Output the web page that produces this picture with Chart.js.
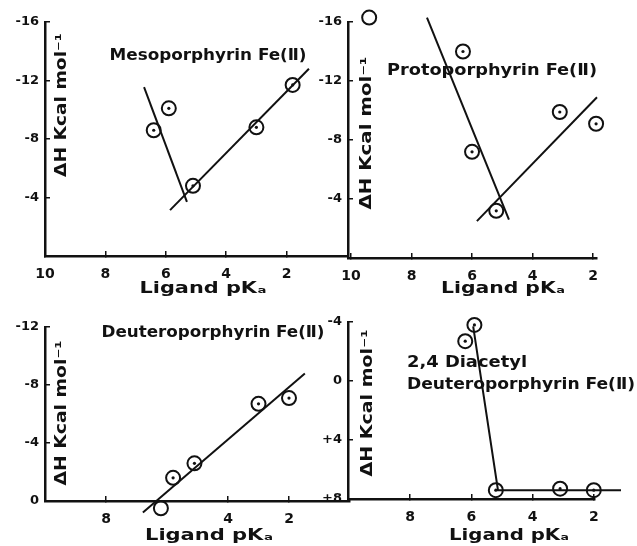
<!DOCTYPE html>
<html>
<head>
<meta charset="utf-8">
<script src="https://cdn.jsdelivr.net/npm/chart.js@4.4.0/dist/chart.umd.min.js"></script>
<style>
  html, body { margin: 0; background: #fff; }
  #wrap { position: relative; width: 637px; height: 546px; }
  #wrap canvas { position: absolute; left: 0; top: 0; }
</style>
</head>
<body>
<div id="wrap">
  <canvas id="meso" width="637" height="546"></canvas>
  <canvas id="proto" width="637" height="546"></canvas>
  <canvas id="deut" width="637" height="546"></canvas>
  <canvas id="diac" width="637" height="546"></canvas>
</div>
<script>
// Mesoporphyrin Fe(II)
const mesoPka = [6.4, 5.9, 5.1, 3.0, 1.8];
const mesoDH = [-8.6, -10.1, -4.8, -8.8, -11.7];
const mesoFitAPka = [6.72, 5.3];
const mesoFitADH = [-11.55, -3.7];
const mesoFitBPka = [5.86, 1.26];
const mesoFitBDH = [-3.14, -12.8];
const mesoXTicks = [10, 8, 6, 4, 2];
const mesoYTicks = [-16, -12, -8, -4];

// Protoporphyrin Fe(II)
const protoPka = [9.4, 6.3, 6.0, 5.2, 3.1, 1.9];
const protoDH = [-16.3, -14.0, -7.2, -3.2, -9.9, -9.1];
const protoFitAPka = [7.49, 4.78];
const protoFitADH = [-16.3, -2.6];
const protoFitBPka = [5.84, 1.87];
const protoFitBDH = [-2.5, -10.9];
const protoXTicks = [10, 8, 6, 4, 2];
const protoYTicks = [-16, -12, -8, -4];

// Deuteroporphyrin Fe(II)
const deutPka = [6.2, 5.8, 5.1, 3.0, 2.0];
const deutDH = [0.5, -1.6, -2.6, -6.7, -7.1];
const deutFitPka = [6.79, 1.48];
const deutFitDH = [0.8, -8.8];
const deutXTicks = [8, 4, 2];
const deutYTicks = [-12, -8, -4, 0];

// 2,4 Diacetyl deuteroporphyrin Fe(II)
const diacPka = [5.9, 6.2, 5.2, 3.1, 2.0];
const diacDH = [-3.8, -2.7, 7.4, 7.3, 7.4];
const diacFitPka = [5.94, 5.13, 1.11];
const diacFitDH = [-3.7, 7.4, 7.4];
const diacXTicks = [8, 6, 4, 2];
const diacYTicks = [-4, 0, 4, 8];

const INK = '#111';
const W = 637, H = 546;
const Y_W = 40;   // width kept for y tick labels
const X_H = 30;   // height kept for x tick labels
const NOTE_FONT = 'bold 16px "DejaVu Sans Condensed", "DejaVu Sans", sans-serif';
const Y_TITLE = 'ΔH Kcal mol⁻¹';
const X_TITLE = 'Ligand pKₐ';

const pts = (xs, ys) => xs.map((x, i) => ({ x: x, y: ys[i] }));

// draws the hand-placed labels (panel titles, axis titles)
const notesPlugin = {
    id: 'notes',
    afterDraw(chart, args, opts) {
        const ctx = chart.ctx;
        (opts.items || []).forEach(t => {
            ctx.save();
            ctx.font = NOTE_FONT;
            ctx.fillStyle = INK;
            ctx.textAlign = t.align || 'center';
            ctx.textBaseline = 'middle';
            ctx.translate(t.x, t.y);
            if (t.rot) ctx.rotate(t.rot);
            if (t.w) ctx.scale(t.w / ctx.measureText(t.text).width, 1);
            ctx.fillText(t.text, 0, 0);
            ctx.restore();
        });
    }
};

function ring(data) {
    return {
        data: data, showLine: false, clip: false,
        pointRadius: 7, pointHoverRadius: 7, pointBorderWidth: 2,
        pointBorderColor: INK, pointBackgroundColor: 'rgba(0,0,0,0)'
    };
}
function dot(data) {
    return {
        data: data, showLine: false, clip: false,
        pointRadius: 1.6, pointBorderWidth: 0, pointBackgroundColor: INK
    };
}
function fit(data) {
    return {
        data: data, showLine: true, clip: false, pointRadius: 0,
        borderColor: INK, borderWidth: 2, tension: 0
    };
}

function makePanel(id, p) {
    const ctx = document.getElementById(id).getContext('2d');
    return new Chart(ctx, {
        type: 'scatter',
        data: { datasets: p.datasets },
        options: {
            responsive: false,
            animation: false,
            events: [],
            layout: {
                padding: {
                    left: p.area.left - Y_W,
                    top: p.area.top,
                    right: W - p.area.right,
                    bottom: H - p.area.bottom - X_H
                }
            },
            plugins: {
                legend: { display: false },
                tooltip: { enabled: false },
                notes: { items: p.notes }
            },
            scales: {
                x: {
                    type: 'linear', reverse: true, min: p.xMin, max: p.xMax,
                    afterBuildTicks: s => { s.ticks = p.xTicks.map(v => ({ value: v })); },
                    afterFit: s => { s.height = X_H; },
                    // negative tick length puts the marks inside the plot, as drawn by hand
                    ticks: { color: INK, padding: 15, font: { family: 'DejaVu Sans', weight: 'bold', size: 14 } },
                    grid: { drawOnChartArea: false, color: INK, lineWidth: 1.5, tickLength: -5 },
                    border: { color: INK, width: 2.5 }
                },
                y: {
                    type: 'linear', reverse: true, min: p.yMin, max: p.yMax,
                    afterBuildTicks: s => { s.ticks = p.yTicks.map(v => ({ value: v })); },
                    afterFit: s => { s.width = Y_W; },
                    ticks: {
                        color: INK, padding: 11,
                        font: { family: 'DejaVu Sans', weight: 'bold', size: 13 },
                        callback: v => v > 0 ? '+' + v : (v < 0 ? '-' + Math.abs(v) : '0')
                    },
                    grid: { drawOnChartArea: false, color: INK, lineWidth: 1.5, tickLength: -5 },
                    border: { color: INK, width: 2.5 }
                }
            }
        },
        plugins: [notesPlugin]
    });
}

makePanel('meso', {
    area: { left: 45, top: 22, right: 347, bottom: 256 },
    xMin: 0, xMax: 10, yMin: -16, yMax: 0,
    xTicks: mesoXTicks, yTicks: mesoYTicks,
    datasets: [
        fit(pts(mesoFitAPka, mesoFitADH)),
        fit(pts(mesoFitBPka, mesoFitBDH)),
        ring(pts(mesoPka, mesoDH)),
        dot(pts(mesoPka, mesoDH))
    ],
    notes: [
        { text: 'Mesoporphyrin Fe(Ⅱ)', x: 208, y: 56, w: 197 },
        { text: Y_TITLE, x: 62, y: 105, w: 144, rot: -Math.PI / 2 },
        { text: X_TITLE, x: 203, y: 289, w: 127 }
    ]
});

makePanel('proto', {
    area: { left: 348, top: 22, right: 597, bottom: 258 },
    xMin: 1.87, xMax: 10.1, yMin: -16, yMax: 0,
    xTicks: protoXTicks, yTicks: protoYTicks,
    datasets: [
        fit(pts(protoFitAPka, protoFitADH)),
        fit(pts(protoFitBPka, protoFitBDH)),
        ring(pts(protoPka, protoDH)),
        dot(pts(protoPka, protoDH))
    ],
    notes: [
        { text: 'Protoporphyrin Fe(Ⅱ)', x: 492, y: 71, w: 210 },
        { text: Y_TITLE, x: 367, y: 133, w: 153, rot: -Math.PI / 2 },
        { text: X_TITLE, x: 503, y: 289, w: 124 }
    ]
});

makePanel('deut', {
    area: { left: 45, top: 327, right: 350, bottom: 501 },
    xMin: 0, xMax: 10, yMin: -12, yMax: 0,
    xTicks: deutXTicks, yTicks: deutYTicks,
    datasets: [
        fit(pts(deutFitPka, deutFitDH)),
        ring(pts(deutPka, deutDH)),
        dot(pts(deutPka, deutDH))
    ],
    notes: [
        { text: 'Deuteroporphyrin Fe(Ⅱ)', x: 213, y: 333, w: 223 },
        { text: Y_TITLE, x: 62, y: 413, w: 145, rot: -Math.PI / 2 },
        { text: X_TITLE, x: 209, y: 536, w: 128 }
    ]
});

makePanel('diac', {
    area: { left: 348, top: 322, right: 595, bottom: 499 },
    xMin: 1.96, xMax: 10.03, yMin: -4, yMax: 8,
    xTicks: diacXTicks, yTicks: diacYTicks,
    datasets: [
        fit(pts(diacFitPka, diacFitDH)),
        ring(pts(diacPka, diacDH)),
        dot(pts(diacPka, diacDH))
    ],
    notes: [
        { text: '2,4 Diacetyl', x: 407, y: 363, w: 120, align: 'left' },
        { text: 'Deuteroporphyrin Fe(Ⅱ)', x: 407, y: 385, w: 228, align: 'left' },
        { text: Y_TITLE, x: 368, y: 403, w: 147, rot: -Math.PI / 2 },
        { text: X_TITLE, x: 509, y: 536, w: 120 }
    ]
});
</script>
</body>
</html>
